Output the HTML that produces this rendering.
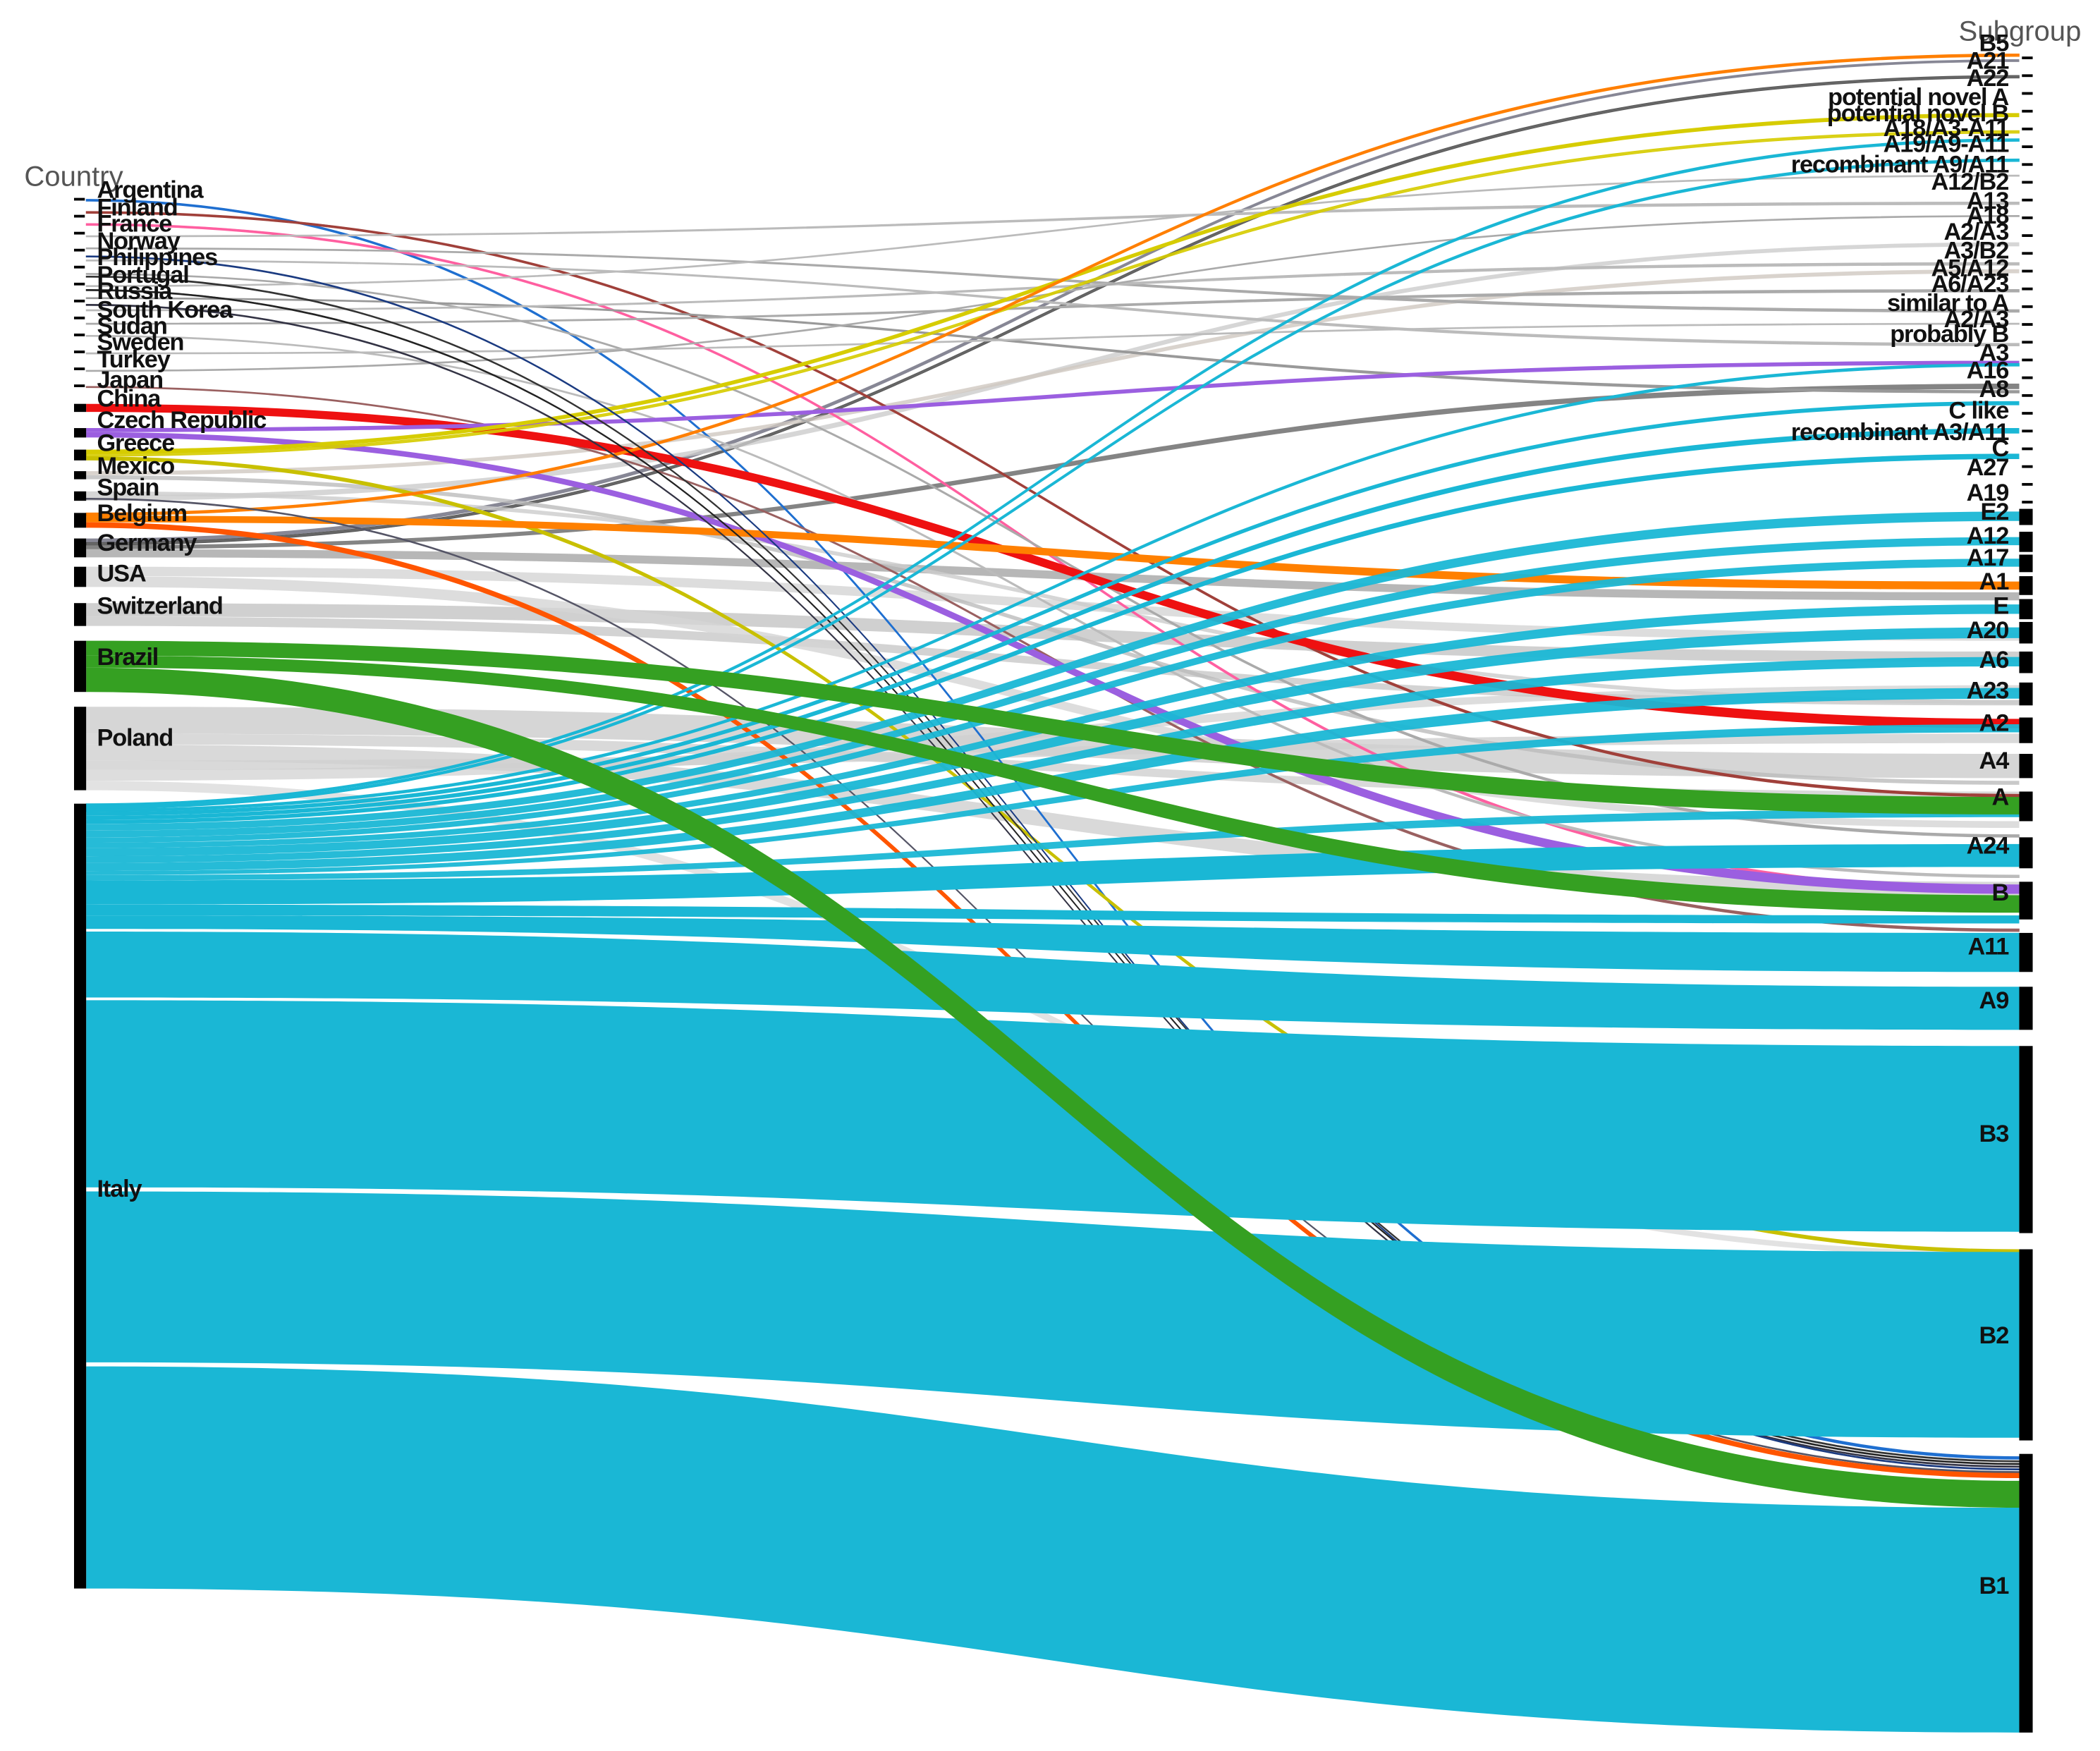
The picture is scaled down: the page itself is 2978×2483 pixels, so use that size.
<!DOCTYPE html>
<html><head><meta charset="utf-8">
<style>
html,body{margin:0;padding:0;background:#fff;}
svg{display:block;}
.l{font-family:"Liberation Sans",sans-serif;font-weight:bold;font-size:18px;fill:#111;letter-spacing:-0.6px;}
.r{font-family:"Liberation Sans",sans-serif;font-weight:bold;font-size:18px;fill:#111;letter-spacing:-0.6px;text-anchor:end;}
.t{font-family:"Liberation Sans",sans-serif;font-size:21px;fill:#555;}
</style></head>
<body>
<svg id="s" width="2978" height="2483" viewBox="0 0 1560 1300.7" preserveAspectRatio="none" xmlns="http://www.w3.org/2000/svg">
<g id="flows"></g>
<g id="bars"></g>
<text class="t" x="18" y="138">Country</text>
<text class="t" x="1455" y="30">Subgroup</text>
<g>
<text class="l" x="72" y="147">Argentina</text>
<text class="l" x="72" y="160">Finland</text>
<text class="l" x="72" y="172">France</text>
<text class="l" x="72" y="185">Norway</text>
<text class="l" x="72" y="197">Philippines</text>
<text class="l" x="72" y="210">Portugal</text>
<text class="l" x="72" y="222">Russia</text>
<text class="l" x="72" y="236">South Korea</text>
<text class="l" x="72" y="248">Sudan</text>
<text class="l" x="72" y="260">Sweden</text>
<text class="l" x="72" y="273">Turkey</text>
<text class="l" x="72" y="288">Japan</text>
<text class="l" x="72" y="302">China</text>
<text class="l" x="72" y="318">Czech Republic</text>
<text class="l" x="72" y="335">Greece</text>
<text class="l" x="72" y="352">Mexico</text>
<text class="l" x="72" y="368">Spain</text>
<text class="l" x="72" y="387">Belgium</text>
<text class="l" x="72" y="409">Germany</text>
<text class="l" x="72" y="432">USA</text>
<text class="l" x="72" y="456">Switzerland</text>
<text class="l" x="72" y="494">Brazil</text>
<text class="l" x="72" y="554">Poland</text>
<text class="l" x="72" y="889">Italy</text>
</g>
<g>
<text class="r" x="1492" y="38">B5</text>
<text class="r" x="1492" y="51">A21</text>
<text class="r" x="1492" y="64">A22</text>
<text class="r" x="1492" y="78">potential novel A</text>
<text class="r" x="1492" y="90">potential novel B</text>
<text class="r" x="1492" y="101">A18/A3-A11</text>
<text class="r" x="1492" y="113">A19/A9-A11</text>
<text class="r" x="1492" y="128">recombinant A9/A11</text>
<text class="r" x="1492" y="141">A12/B2</text>
<text class="r" x="1492" y="155">A13</text>
<text class="r" x="1492" y="166">A18</text>
<text class="r" x="1492" y="178">A2/A3</text>
<text class="r" x="1492" y="192">A3/B2</text>
<text class="r" x="1492" y="205">A5/A12</text>
<text class="r" x="1492" y="217">A6/A23</text>
<text class="r" x="1492" y="231">similar to A</text>
<text class="r" x="1492" y="243">A2/A3</text>
<text class="r" x="1492" y="254">probably B</text>
<text class="r" x="1492" y="268">A3</text>
<text class="r" x="1492" y="281">A16</text>
<text class="r" x="1492" y="295">A8</text>
<text class="r" x="1492" y="311">C like</text>
<text class="r" x="1492" y="327">recombinant A3/A11</text>
<text class="r" x="1492" y="339">C</text>
<text class="r" x="1492" y="353">A27</text>
<text class="r" x="1492" y="372">A19</text>
<text class="r" x="1492" y="386">E2</text>
<text class="r" x="1492" y="404">A12</text>
<text class="r" x="1492" y="420">A17</text>
<text class="r" x="1492" y="438">A1</text>
<text class="r" x="1492" y="456">E</text>
<text class="r" x="1492" y="474">A20</text>
<text class="r" x="1492" y="496">A6</text>
<text class="r" x="1492" y="519">A23</text>
<text class="r" x="1492" y="543">A2</text>
<text class="r" x="1492" y="571">A4</text>
<text class="r" x="1492" y="598">A</text>
<text class="r" x="1492" y="634">A24</text>
<text class="r" x="1492" y="669">B</text>
<text class="r" x="1492" y="709">A11</text>
<text class="r" x="1492" y="749">A9</text>
<text class="r" x="1492" y="848">B3</text>
<text class="r" x="1492" y="998">B2</text>
<text class="r" x="1492" y="1184">B1</text>
</g>
</svg>
<script>
var NS="http://www.w3.org/2000/svg";
var X0=64,X1=1500,XM=(X0+X1)/2;
var C="#1ab7d5",G="#35a022",P="#cfcfcf";
var flows=[
 [525,545,560,578,P,.85],[545,553,588,593,P,.8],[553,565,655,665,P,.8],[565,572,545,552,P,.8],[572,580,509,514,P,.7],[580,587,930,934,P,.6],
 [448,458,484,492,"#c8c8c8",.85],[458,465,520,524,"#c8c8c8",.8],
 [421,428,470,476,"#d4d4d4",.8],[428,436,610,615,"#d4d4d4",.8],
 [400,403,44,46,"#7a7a8a",.9],[403,405,56,58,"#555",.9],[405,408,285,289,"#777",.9],[408,414,440,446,"#999",.7],
 [365,368,520,523,"#ccc",.8],[368,372,180,183,"#ccc",.8],
 [350,353,200,203,"#d0c8c0",.8],[353,356,580,583,"#bbb",.8],
 [148,149.5,1082,1084,"#1f6fd0",1],[157,158.5,590,592,"#a0403a",1],[166,167.5,660,662,"#ff5fa0",1],
 [175,176,150,152,"#bbb",1],[184,185,230,232,"#aaa",1],[193,194,255,257,"#bbb",1],[203,204,620,622,"#aaa",1],
 [212,213,130,131,"#bbb",1],[221,222,290,292,"#999",1],[230,231,195,197,"#bbb",1],[240,241,215,217,"#aaa",1],[249,250,650,652,"#bbb",1],
 [262,263,240,241,"#bbb",1],[275,276,160,161,"#aaa",1],[287,288,690,692,"#9a6060",1],
 [300,306,534,541,"#ee1111",1],[318,321,268,271,"#9b5fe0",1],[321,325,657,664,"#9b5fe0",1],
 [334,337,84,87,"#d6cc00",1],[337,339,97,99,"#d6cc00",.9],[339,342,928,931,"#c8c000",1],
 [381,383,40,42,"#ff7f00",1],[383,388,432,438,"#ff8000",1],[388,392,1094,1098,"#ff5500",1],
 [205,206,1085,1086,"#333",1],[215,216,1087,1088,"#222",1],[226,227,1089,1090,"#334",1],[190,191,1091,1092,"#1a3a80",1],[370,371,1093,1094,"#556",1],
 [597,599,103,105,C,1],[599,601,118,120,C,1],[601,603,270,272,C,1],[603,606,298,301,C,1],[606,609,318,322,C,1],
 [609,612,337,341,C,1],[612,617,380,387,C,.95],[617,622,399,405,C,.95],[622,626,415,421,C,.95],[626,630,449,456,C,.95],
 [630,636,466,474,C,.95],[636,641,488,495,C,.95],[641,647,511,519,C,.95],[647,650,538,544,C,.95],[650,654,601,607,C,.95],
 [654,672,627,644,C,1],[672,680,680,686,C,1],[680,690,693,722,C,1],[692,741,733,765,C,1],[743,882,777,915,C,1],
 [885,1012,930,1068,C,1],[1015,1180,1120,1287,C,1],
 [476,487,592,605,G,1],[487,496,665,678,G,1],[496,514,1100,1120,G,1]
];
var g=document.getElementById("flows");
flows.forEach(function(f){
 var p=document.createElementNS(NS,"path");
 var d="M"+X0+","+f[0]+" C"+XM+","+f[0]+" "+XM+","+f[2]+" "+X1+","+f[2]+" L"+X1+","+f[3]+" C"+XM+","+f[3]+" "+XM+","+f[1]+" "+X0+","+f[1]+" Z";
 p.setAttribute("d",d);p.setAttribute("fill",f[4]);p.setAttribute("fill-opacity",f[5]);
 if(f[1]-f[0]<2.5){p.setAttribute("stroke",f[4]);p.setAttribute("stroke-width","0.4");}
 g.appendChild(p);
});
var b=document.getElementById("bars");
function rect(x,y,w,h){var r=document.createElementNS(NS,"rect");r.setAttribute("x",x);r.setAttribute("y",y);r.setAttribute("width",w);r.setAttribute("height",h);r.setAttribute("fill","#000");b.appendChild(r);}
for(var i=0;i<12;i++){rect(55,147+i*12.6,8,2);}
[[300,306],[318,325],[334,342],[350,356],[365,372],[381,392],[400,414],[421,436],[448,465],[476,514],[525,587],[597,1180]].forEach(function(a){rect(55,a[0],9,a[1]-a[0]);});
for(var j=0;j<26;j++){rect(1502,42+j*13.2,8,2);}
[[378,390],[395,410],[412,425],[428,442],[445,460],[462,478],[484,500],[507,524],[533,552],[560,578],[588,610],[622,645],[655,683],[693,722],[733,765],[777,916],[928,1070],[1080,1287]].forEach(function(a){rect(1500,a[0],10,a[1]-a[0]);});
</script>
</body></html>
